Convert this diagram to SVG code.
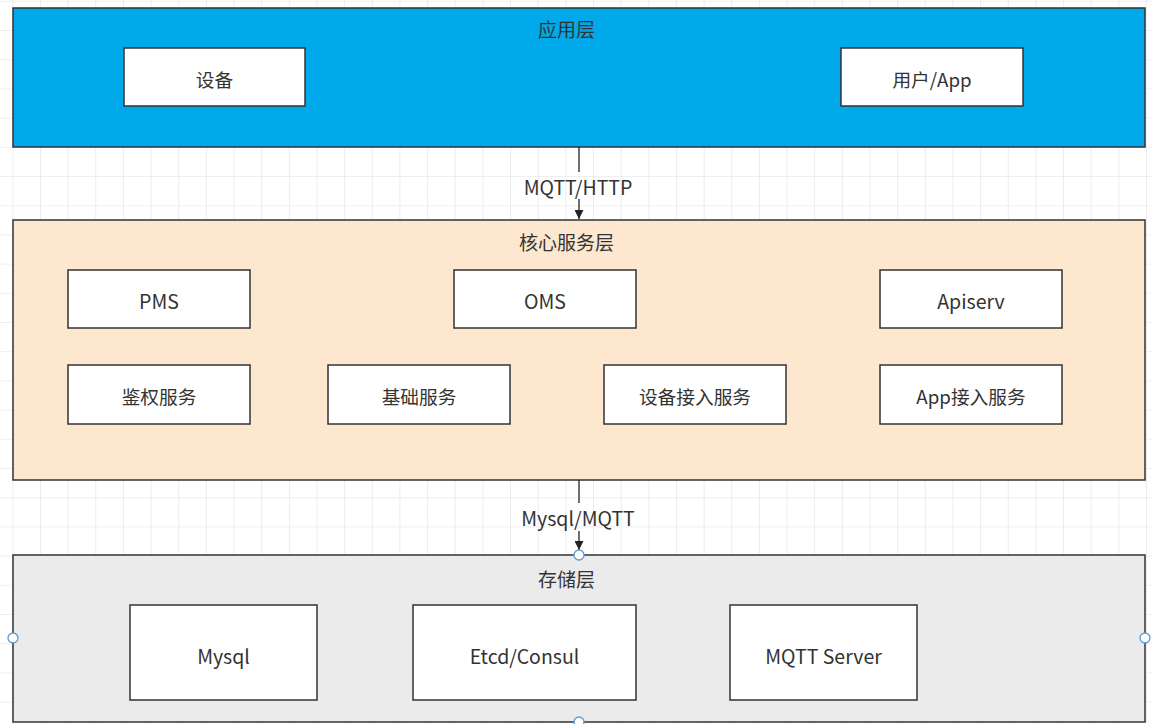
<svg xmlns="http://www.w3.org/2000/svg" width="1152" height="724" viewBox="0 0 1152 724">
  <defs>
    <pattern id="grid" x="12.35" y="0.8" width="27.65" height="29.2" patternUnits="userSpaceOnUse">
      <path d="M0 0 V29.2 M0 0 H27.65" fill="none" stroke="#e0e0e0" stroke-width="1.2"/>
    </pattern>
    <marker id="arrow" viewBox="0 0 10 10" refX="10" refY="5" markerWidth="9" markerHeight="9" markerUnits="userSpaceOnUse" orient="auto">
      <path d="M0 0 L10 5 L0 10 Z" fill="#222"/>
    </marker>
  </defs>
  <style>
    .layer { stroke: #333; stroke-width: 1.5; }
    .box { fill: #fff; stroke: #333; stroke-width: 1.5; }
    .label { font-family: "Noto Sans CJK SC", "Noto Sans", sans-serif; font-size: 18.7px; fill: #333; text-anchor: middle; dominant-baseline: central; }
    .latin { font-size: 19.5px; }
    .title { font-size: 19px; }
    .link { fill: none; stroke: #222; stroke-width: 1.3; }
    .handle { fill: #fff; stroke: #5b9bd5; stroke-width: 1.3; }
  </style>

  <!-- canvas grid -->
  <rect width="1152" height="724" fill="#fff"/>
  <rect width="1152" height="724" fill="url(#grid)"/>

  <!-- application layer -->
  <g id="app-layer">
    <rect class="layer" x="13" y="8" width="1132" height="139" fill="#00a9e9"/>
    <text class="label title" x="566.5" y="28">应用层</text>
  </g>
  <g id="device">
    <rect class="box" x="124" y="48" width="181" height="58"/>
    <text class="label" x="214.5" y="78">设备</text>
  </g>
  <g id="user-app">
    <rect class="box" x="841" y="48" width="182" height="58"/>
    <text class="label" x="932" y="78">用户/App</text>
  </g>

  <!-- core service layer -->
  <g id="core-layer">
    <rect class="layer" x="13" y="220" width="1132" height="260" fill="#fde7cf"/>
    <text class="label title" x="566.5" y="241">核心服务层</text>
  </g>
  <g id="pms">
    <rect class="box" x="68" y="270" width="182" height="58"/>
    <text class="label latin" x="159" y="300">PMS</text>
  </g>
  <g id="oms">
    <rect class="box" x="454" y="270" width="182" height="58"/>
    <text class="label latin" x="545" y="300">OMS</text>
  </g>
  <g id="apiserv">
    <rect class="box" x="880" y="270" width="182" height="58"/>
    <text class="label latin" x="971" y="300">Apiserv</text>
  </g>
  <g id="auth-service">
    <rect class="box" x="68" y="365" width="182" height="59"/>
    <text class="label" x="159" y="395">鉴权服务</text>
  </g>
  <g id="base-service">
    <rect class="box" x="328" y="365" width="182" height="59"/>
    <text class="label" x="419" y="395">基础服务</text>
  </g>
  <g id="device-access">
    <rect class="box" x="604" y="365" width="182" height="59"/>
    <text class="label" x="695" y="395">设备接入服务</text>
  </g>
  <g id="app-access">
    <rect class="box" x="880" y="365" width="182" height="59"/>
    <text class="label" x="971" y="395">App接入服务</text>
  </g>

  <!-- storage layer -->
  <g id="storage-layer">
    <rect class="layer" x="13" y="555" width="1132" height="167" fill="#ebebeb"/>
    <text class="label title" x="566.5" y="578">存储层</text>
  </g>
  <g id="mysql">
    <rect class="box" x="130" y="605" width="187" height="95"/>
    <text class="label latin" x="223.5" y="655">Mysql</text>
  </g>
  <g id="etcd-consul">
    <rect class="box" x="413" y="605" width="223" height="95"/>
    <text class="label latin" x="524.5" y="655">Etcd/Consul</text>
  </g>
  <g id="mqtt-server">
    <rect class="box" x="730" y="605" width="187" height="95"/>
    <text class="label latin" x="823.5" y="655">MQTT Server</text>
  </g>

  <!-- connectors between layers -->
  <g id="connectors">
    <path class="link" d="M579 147 V172" />
    <path class="link" d="M579 199 V219" marker-end="url(#arrow)"/>
    <text class="label latin" x="578" y="186">MQTT/HTTP</text>
    <path class="link" d="M579 480 V503" />
    <path class="link" d="M579 531 V550" marker-end="url(#arrow)"/>
    <text class="label latin" x="578" y="517">Mysql/MQTT</text>
  </g>

  <!-- selection handles on the storage layer -->
  <g id="handles">
    <circle class="handle" cx="579" cy="555" r="5"/>
    <circle class="handle" cx="13" cy="638" r="5"/>
    <circle class="handle" cx="1145" cy="638" r="5"/>
    <circle class="handle" cx="579" cy="722" r="5"/>
  </g>
</svg>
